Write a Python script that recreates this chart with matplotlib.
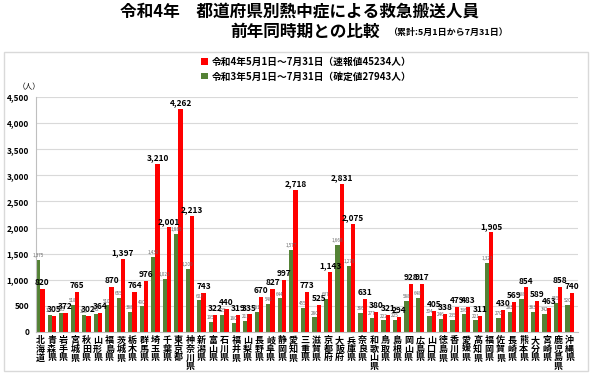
import matplotlib.pyplot as plt
import numpy as np
from matplotlib.patches import Rectangle

plt.rcParams['font.family'] = ['Noto Sans CJK JP', 'DejaVu Sans']

prefs = ["北海道", "青森県", "岩手県", "宮城県", "秋田県", "山形県", "福島県",
         "茨城県", "栃木県", "群馬県", "埼玉県", "千葉県", "東京都", "神奈川県",
         "新潟県", "富山県", "石川県", "福井県", "山梨県", "長野県", "岐阜県",
         "静岡県", "愛知県", "三重県", "滋賀県", "京都府", "大阪府", "兵庫県",
         "奈良県", "和歌山県", "鳥取県", "島根県", "岡山県", "広島県", "山口県",
         "徳島県", "香川県", "愛媛県", "高知県", "福岡県", "佐賀県", "長崎県",
         "熊本県", "大分県", "宮崎県", "鹿児島県", "沖縄県"]

# 令和4年 (速報値)
r4 = [820, 305, 372, 765, 302, 364, 870, 1397, 764, 976, 3210, 2001, 4262, 2213,
      743, 322, 440, 319, 335, 670, 827, 997, 2718, 773, 525, 1143, 2831, 2075,
      631, 380, 321, 294, 928, 917, 405, 338, 479, 483, 311, 1905, 430, 569,
      854, 589, 463, 858, 740]

# 令和3年 (確定値)
r3 = [1375, 320, 355, 518, 318, 342, 510, 655, 388, 490, 1438, 1023, 1885, 1209,
      603, 195, 325, 180, 211, 381, 540, 644, 1577, 455, 280, 637, 1668, 1270,
      366, 277, 222, 225, 588, 648, 304, 246, 235, 336, 221, 1323, 270, 383,
      638, 383, 342, 555, 520]

red = '#ff0000'
green = '#548235'

fig = plt.figure(figsize=(6, 3.73), dpi=100)
ax = fig.add_axes([0.06, 0.11, 0.903, 0.63])

x = np.arange(len(prefs))
w = 0.37
b3 = ax.bar(x - w / 2, r3, w, color=green, label='令和3年5月1日～7月31日（確定値27943人）')
b4 = ax.bar(x + w / 2, r4, w, color=red, label='令和4年5月1日～7月31日（速報値45234人）')

for xi, v in zip(x, r4):
    ax.text(xi + w / 2, v + 35, f"{v:,}", ha='center', va='bottom',
            fontsize=6, fontweight='bold')
for xi, v in zip(x, r3):
    ax.text(xi - w / 2, v + 35, f"{v:,}", ha='center', va='bottom',
            fontsize=3.3, color='#666666')

ax.set_ylim(0, 4500)
ax.set_xlim(-0.37, 46.7)
ax.set_yticks(range(0, 4501, 500))
ax.set_yticklabels([f"{t:,}" for t in range(0, 4501, 500)], fontsize=6, fontweight='bold')
ax.set_xticks(x)
ax.set_xticklabels(['\n'.join(p) for p in prefs], fontsize=6.5, fontweight='bold',
                   linespacing=0.95, va='top')
ax.tick_params(length=0, pad=3)
ax.tick_params(axis='y', pad=5)
ax.grid(axis='y', color='#d9d9d9', linewidth=0.8)
ax.set_axisbelow(True)
for s in ['top', 'right']:
    ax.spines[s].set_visible(False)
ax.spines['left'].set_color('#bfbfbf')
ax.spines['bottom'].set_color('#bfbfbf')

fig.text(0.03, 0.765, '（人）', fontsize=5.5, ha='left', va='center')

fig.legend(handles=[b4, b3], loc='center', bbox_to_anchor=(0.51, 0.815), frameon=False,
           handlelength=0.7, handleheight=0.7, handletextpad=0.4,
           labelspacing=0.5, prop={'weight': 'bold', 'size': 7})

fig.text(0.5, 0.968, '令和4年　都道府県別熱中症による救急搬送人員', ha='center', va='center',
         fontsize=12, fontweight='bold')
fig.text(0.383, 0.914, '前年同時期との比較', ha='left', va='center',
         fontsize=12, fontweight='bold')
fig.text(0.647, 0.914, '（累計:5月1日から7月31日）', ha='left', va='center',
         fontsize=6.5, fontweight='bold')

fig.add_artist(Rectangle((0.006, 0.006), 0.974, 0.855, transform=fig.transFigure,
                         fill=False, edgecolor='#d9d9d9', linewidth=1))

fig.savefig('out.png', dpi=100)
